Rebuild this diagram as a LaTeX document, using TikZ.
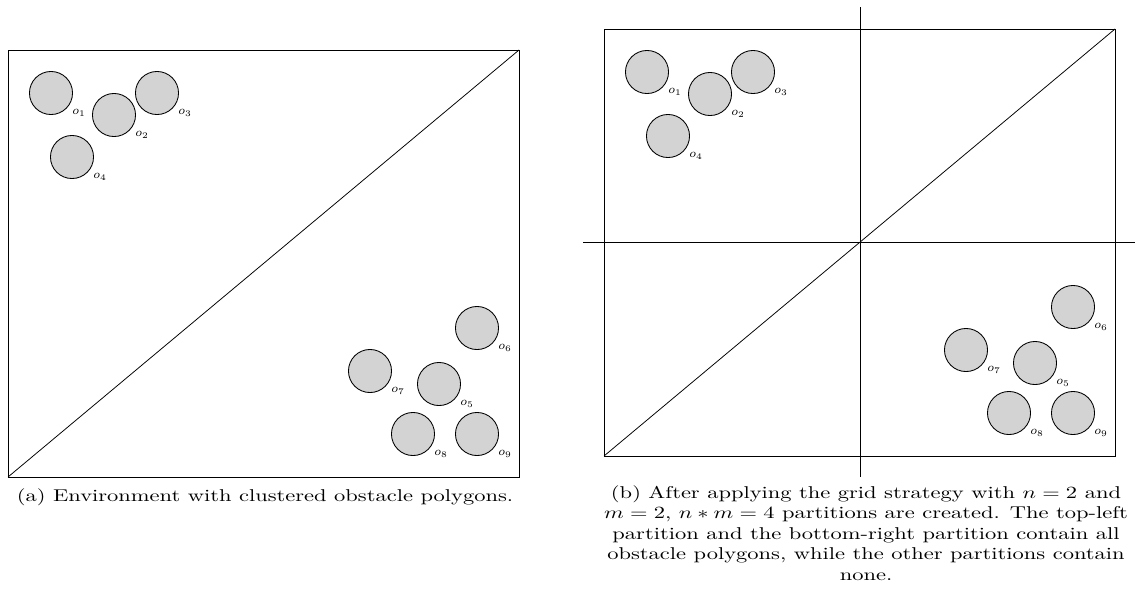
\documentclass[tikz,border=0pt]{standalone}
\definecolor{obst}{RGB}{211,211,211}
\tikzset{
  obstacle/.style={circle, draw, fill=obst, minimum size=25.2pt, inner sep=0pt, line width=0.5pt},
  olabel/.style={font=\scriptsize, inner sep=0pt},
  frame/.style={line width=0.45pt},
  caption/.style={font=\normalsize, inner sep=0pt, align=center, transform shape}
}
\begin{document}
\begin{tikzpicture}[x=0.585pt,y=-0.585pt]
\useasboundingbox (0,0) rectangle (1135,612);
% ---------- left panel ----------
\coordinate (aTL) at (8,50);
\coordinate (aTR) at (519,50);
\coordinate (aBL) at (8,477);
\coordinate (aBR) at (519,477);
\draw[frame] (aTL) rectangle (aBR);
\draw[frame] (aBL) -- (aTR);
\foreach \n/\x/\y in {1/51/93,2/114/115,3/157/93,4/72/157,5/439/384,6/477/328,7/370/371,8/413/434,9/477/434}{
  \node[obstacle] (a\n) at (\x,\y) {};
  \node[olabel] (al\n) at ([shift={(28,20)}]a\n.center) {$o_{\n}$};
}
\begin{scope}[shift={(265,497)}, xscale=1.316]
\node[caption] (capa) at (0,0) {(a) Environment with clustered obstacle polygons.};
\end{scope}
% ---------- right panel ----------
\begin{scope}[shift={(596,-21)}]
\coordinate (bTL) at (8,50);
\coordinate (bTR) at (519,50);
\coordinate (bBL) at (8,477);
\coordinate (bBR) at (519,477);
\draw[frame] (bTL) rectangle (bBR);
\draw[frame] (bBL) -- (bTR);
\foreach \n/\x/\y in {1/51/93,2/114/115,3/157/93,4/72/157,5/439/384,6/477/328,7/370/371,8/413/434,9/477/434}{
  \node[obstacle] (b\n) at (\x,\y) {};
  \node[olabel] (bl\n) at ([shift={(28,20)}]b\n.center) {$o_{\n}$};
}
\end{scope}
\coordinate (vT) at (860,7);
\coordinate (vB) at (860,477);
\coordinate (hL) at (583,242);
\coordinate (hR) at (1135,242);
\draw[frame] (vT) -- (vB);
\draw[frame] (hL) -- (hR);
\begin{scope}[shift={(866,533)}, xscale=1.316]
\node[caption] (capb) at (0,0) {(b) After applying the grid strategy with $n=2$ and\\
$m=2$, $n*m=4$ partitions are created. The top-left\\
partition and the bottom-right partition contain all\\
obstacle polygons, while the other partitions contain\\
none.};
\end{scope}
\end{tikzpicture}
\end{document}
